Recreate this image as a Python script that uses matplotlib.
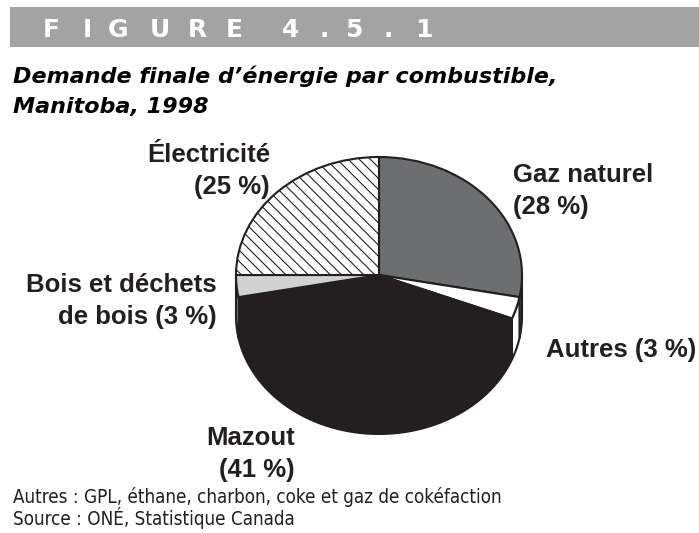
import numpy as np
import matplotlib
matplotlib.use("Agg")
import matplotlib.pyplot as plt
from matplotlib.patches import Rectangle, Polygon

# données
combustibles = ["Gaz naturel", "Autres", "Mazout", "Bois et déchets\nde bois", "Électricité"]
parts = [28, 3, 41, 3, 25]
couleurs = ["#6d6e70", "#ffffff", "#231f20", "#d1d2d4", "#ffffff"]
hachures = [None, None, None, None, "\\\\\\"]

titre = "Demande finale d’énergie par combustible,\nManitoba, 1998"
entete = "FIGURE 4.5.1"
notes = ["Autres : GPL, éthane, charbon, coke et gaz de cokéfaction",
         "Source : ONÉ, Statistique Canada"]

NOIR = "#231f20"
W, H = 699, 533
plt.rcParams["hatch.linewidth"] = 0.8
plt.rcParams["hatch.color"] = NOIR

fig = plt.figure(figsize=(W / 100, H / 100), dpi=100)

# calque en pixels pour les textes
bg = fig.add_axes([0, 0, 1, 1])
bg.set_xlim(0, W)
bg.set_ylim(H, 0)
bg.axis("off")

bg.add_patch(Rectangle((10, 7), W - 10, 40, color="#a3a3a3", lw=0))
xs = [43, 83, 108, 150, 188, 226, 282, 320, 345, 383, 415]
for x, c in zip(xs, entete.replace(" ", "")):
    bg.text(x, 37, c, color="white", fontsize=18, fontweight="heavy",
            family="DejaVu Sans", va="baseline", ha="left")

for i, ligne in enumerate(titre.split("\n")):
    bg.text(13, 83 + 30 * i, ligne, fontsize=16, fontweight="bold", style="italic",
            family="DejaVu Sans", va="baseline", color="black")

for i, n in enumerate(notes):
    bg.text(13, 503 + 22 * i, n, fontsize=13.5, family="DejaVu Sans",
            fontstretch="condensed", va="baseline", color=NOIR)

# camembert en perspective
a, b, prof = 143, 118, 41
cx, cy = 379, 275
d = prof / b
ax = fig.add_axes([(cx - a) / W, (H - (cy + b + prof)) / H, 2 * a / W, (2 * b + prof) / H])
ax.set_xlim(-1, 1)
ax.set_ylim(-1 - d, 1)
ax.axis("off")

# parois (partie avant uniquement)
bornes = 90 - 360 * np.concatenate([[0], np.cumsum(parts)]) / 100
for i in range(len(parts)):
    t1, t0 = bornes[i], bornes[i + 1]
    lo, hi = max(t0, -180), min(t1, 0)
    if hi <= lo:
        continue
    t = np.radians(np.linspace(lo, hi, 60))
    haut = np.column_stack([np.cos(t), np.sin(t)])
    bas = np.column_stack([np.cos(t), np.sin(t) - d])[::-1]
    ax.add_patch(Polygon(np.vstack([haut, bas]), closed=True, facecolor=couleurs[i],
                         edgecolor=NOIR, lw=1.5, clip_on=False))

wedges, _ = ax.pie(parts, colors=couleurs, startangle=90, counterclock=False,
                   radius=1, frame=False,
                   wedgeprops=dict(edgecolor=NOIR, linewidth=1.5))
for w, h in zip(wedges, hachures):
    w.set_clip_on(False)
    if h:
        w.set_hatch(h)
ax.set_aspect("auto")
ax.set_xlim(-1, 1)
ax.set_ylim(-1 - d, 1)

# étiquettes
pos = [(513, 182, "left"), (546, 357, "left"), (295, 445, "right"),
       (217, 292, "right"), (270, 162, "right")]
for nom, p, (x, y, ha) in zip(combustibles, parts, pos):
    if nom == "Autres":
        lignes = ["Autres (%d %%)" % p]
    elif "\n" in nom:
        debut, fin = nom.split("\n")
        lignes = [debut, fin + " (%d %%)" % p]
    else:
        lignes = [nom, "(%d %%)" % p]
    for k, l in enumerate(lignes):
        bg.text(x, y + 32 * k, l, fontsize=18.5, fontweight="bold", family="Liberation Sans",
                ha=ha, va="baseline", color=NOIR)

fig.savefig("out.png", dpi=100)
